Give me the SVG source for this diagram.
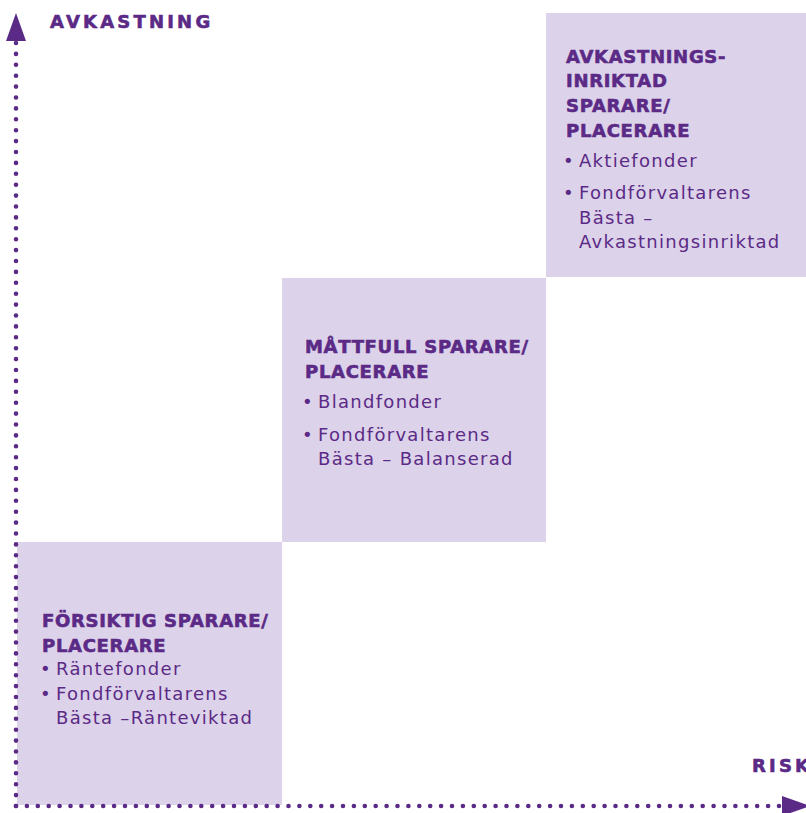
<svg xmlns="http://www.w3.org/2000/svg" width="806" height="813" viewBox="0 0 806 813">
<style>
.box{fill:#dcd2e9}
.h{font-family:"DejaVu Sans","Liberation Sans",sans-serif;font-weight:700;font-size:18px;fill:#5b2a86;stroke:#5b2a86;stroke-width:0.6px;letter-spacing:0.7px}
.t{font-family:"DejaVu Sans","Liberation Sans",sans-serif;font-weight:400;font-size:18px;fill:#5b2a86;letter-spacing:1.3px}
.ax{font-family:"DejaVu Sans","Liberation Sans",sans-serif;font-weight:700;font-size:18px;fill:#5b2a86;stroke:#5b2a86;stroke-width:0.6px;letter-spacing:3.2px}
.dots{fill:none;stroke:#5b2a86;stroke-width:4.6;stroke-linecap:round;stroke-dasharray:0 10.9}
.arrow{fill:#5b2a86}
</style>
<rect width="806" height="813" fill="#ffffff"/>
<g id="node-forsiktig">
<rect class="box" x="17" y="542" width="265" height="263"/>
<text class="h" x="42" y="627">FÖRSIKTIG SPARARE/</text>
<text class="h" x="42" y="652">PLACERARE</text>
<text class="t" y="675"><tspan x="40">•</tspan><tspan x="56">Räntefonder</tspan></text>
<text class="t" y="700"><tspan x="40">•</tspan><tspan x="56">Fondförvaltarens</tspan></text>
<text class="t" x="56" y="724">Bästa –Ränteviktad</text>
</g>
<g id="node-mattfull">
<rect class="box" x="282" y="278" width="264" height="264"/>
<text class="h" x="305" y="353">MÅTTFULL SPARARE/</text>
<text class="h" x="305" y="378">PLACERARE</text>
<text class="t" y="408"><tspan x="302">•</tspan><tspan x="318">Blandfonder</tspan></text>
<text class="t" y="441"><tspan x="302">•</tspan><tspan x="318">Fondförvaltarens</tspan></text>
<text class="t" x="318" y="465">Bästa – Balanserad</text>
</g>
<g id="node-avkastningsinriktad">
<rect class="box" x="546" y="13" width="260" height="264"/>
<text class="h" x="566" y="63">AVKASTNINGS-</text>
<text class="h" x="566" y="87">INRIKTAD</text>
<text class="h" x="566" y="112">SPARARE/</text>
<text class="h" x="566" y="137">PLACERARE</text>
<text class="t" y="167"><tspan x="563">•</tspan><tspan x="579">Aktiefonder</tspan></text>
<text class="t" y="199"><tspan x="563">•</tspan><tspan x="579">Fondförvaltarens</tspan></text>
<text class="t" x="579" y="224">Bästa –</text>
<text class="t" x="579" y="248">Avkastningsinriktad</text>
</g>
<g id="connectors">
<path class="dots" d="M16 806 L16 41"/>
<path class="dots" d="M16 806 L782 806"/>
<polygon class="arrow" points="16,13 6,41 26,41"/>
<polygon class="arrow" points="810,806 782,796 782,816"/>
</g>
<g id="axis-labels">
<text class="ax" x="50" y="28">AVKASTNING</text>
<text class="ax" x="752" y="772">RISK</text>
</g>
</svg>
